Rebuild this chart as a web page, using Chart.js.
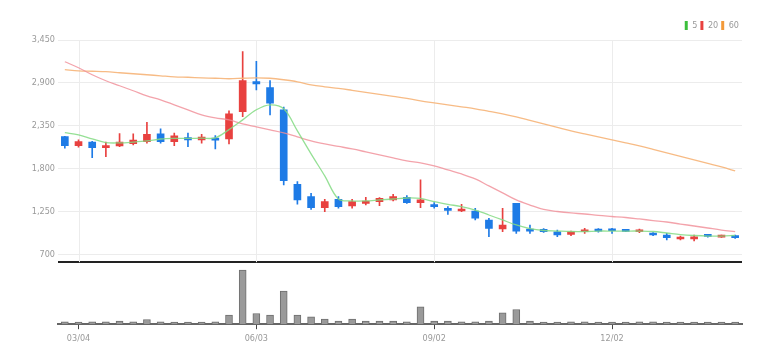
<!DOCTYPE html>
<html lang="en">
<head>
    <meta charset="UTF-8">
    <title>Weekly candles</title>
    <script src="https://cdn.jsdelivr.net/npm/chart.js"></script>
    <style>
        body { margin: 0; background: #fff; }
        .chart-container { width: 782px; height: 364px; }
    </style>
</head>
<body>
    <div class="chart-container">
        <canvas id="stockChart"></canvas>
    </div>

    <script>
        // weekly dates (only a few are shown on the axis)
        const dates = ['02/26','03/04','03/11','03/18','03/25','04/01','04/08','04/15','04/22','04/29',
            '05/06','05/13','05/20','05/27','06/03','06/10','06/17','06/24','07/01','07/08',
            '07/15','07/22','07/29','08/05','08/12','08/19','08/26','09/02','09/09','09/16',
            '09/23','09/30','10/07','10/14','10/21','10/28','11/04','11/11','11/18','11/25',
            '12/02','12/09','12/16','12/23','12/30','01/06','01/13','01/20','01/27','02/03'];
        const tickLabels = ['03/04', '06/03', '09/02', '12/02'];
        const priceTicks = [700, 1250, 1800, 2350, 2900, 3450];

        const opens  = [2211,2095,2139,2070,2090,2121,2147,2245,2147,2198,2168,2190,2182,2532,2918,2841,2554,1600,1440,1299,
                        1407,1321,1355,1376,1398,1432,1363,1334,1291,1256,1256,1141,1025,1355,1021,1021,990,957,990,1021,
                        1021,1012,990,970,948,897,897,948,922,940];
        const highs  = [2215,2169,2150,2139,2250,2245,2395,2310,2255,2255,2240,2225,2541,3303,3175,2931,2589,1633,1484,1407,
                        1440,1407,1432,1427,1471,1453,1655,1363,1312,1342,1291,1163,1291,1355,1077,1030,1012,1000,1034,1030,
                        1034,1021,1025,978,970,935,948,957,948,948];
        const lows   = [2062,2075,1941,1954,2080,2103,2126,2125,2095,2083,2125,2053,2117,2468,2811,2490,1591,1343,1278,1247,
                        1291,1291,1333,1325,1385,1355,1299,1291,1214,1247,1141,926,990,970,970,980,926,940,970,985,
                        970,990,978,940,884,884,871,922,918,905];
        const closes = [2095,2147,2070,2092,2140,2165,2240,2147,2220,2168,2203,2165,2503,2931,2885,2640,1646,1398,1299,1376,
                        1312,1376,1385,1420,1440,1363,1398,1312,1265,1278,1163,1034,1077,999,999,990,948,990,1012,999,
                        1003,995,1008,948,913,918,926,931,940,913];

        const ma5  = [2262,2233,2182,2134,2130,2140,2155,2180,2188,2188,2190,2195,2300,2425,2555,2618,2567,2284,1989,1706,
                      1410,1385,1385,1398,1410,1423,1417,1376,1342,1312,1269,1205,1141,1077,1030,1006,999,993,993,999,
                      999,999,999,993,974,954,942,935,935,942];
        const ma20 = [3171,3094,3004,2927,2863,2799,2734,2683,2619,2554,2490,2451,2425,2374,2336,2297,2258,2207,2156,2117,
                      2085,2053,2015,1976,1937,1899,1873,1835,1783,1732,1668,1578,1488,1398,1333,1276,1250,1231,1218,1199,
                      1186,1173,1154,1134,1115,1089,1064,1038,1012,993];
        const ma60 = [3069,3055,3049,3043,3030,3017,3004,2991,2978,2972,2965,2959,2953,2959,2965,2959,2940,2914,2875,2850,
                      2830,2805,2779,2753,2727,2702,2670,2644,2619,2593,2567,2535,2503,2464,2419,2374,2329,2284,2245,2207,
                      2168,2130,2091,2047,2002,1957,1912,1867,1822,1770];

        const volumes = [23000,13000,23000,23000,30000,23000,47000,23000,13000,13000,13000,23000,90000,540000,107000,90000,330000,90000,73000,50000,
                         30000,50000,30000,30000,30000,23000,173000,30000,30000,23000,23000,30000,113000,147000,30000,13000,13000,23000,23000,13000,
                         7000,13000,23000,23000,13000,13000,13000,13000,7000,7000];

        const UP = '#e8413f';
        const DOWN = '#1e7be6';
        const candleColors = opens.map((o, i) => closes[i] >= o ? UP : DOWN);
        const labelFont = { family: "'Liberation Sans Narrow', 'DejaVu Sans Condensed', 'Liberation Sans', sans-serif", size: 9 };

        // light vertical grid lines only inside the price panel
        const priceGrid = {
            id: 'priceGrid',
            beforeDatasetsDraw(chart) {
                const { ctx, scales: { x, y } } = chart;
                ctx.save();
                ctx.strokeStyle = '#ececec';
                ctx.lineWidth = 1;
                x.ticks.forEach(t => {
                    const px = Math.round(x.getPixelForValue(t.value)) + 0.5;
                    ctx.beginPath();
                    ctx.moveTo(px, y.top);
                    ctx.lineTo(px, y.bottom);
                    ctx.stroke();
                });
                ctx.restore();
            }
        };

        const lineDs = (label, data, color, solid) => ({
            type: 'line',
            label: label,
            data: data,
            yAxisID: 'y',
            borderColor: color,
            backgroundColor: solid,
            borderWidth: 1.3,
            pointRadius: 0,
            tension: 0.35,
            order: 0
        });

        new Chart(document.getElementById('stockChart'), {
            data: {
                labels: dates,
                datasets: [
                    lineDs('5', ma5, 'rgba(130,218,130,0.85)', '#3cbf3c'),
                    lineDs('20', ma20, 'rgba(240,140,150,0.8)', '#e8413f'),
                    lineDs('60', ma60, 'rgba(246,180,120,0.9)', '#f39a3a'),
                    {
                        type: 'bar',
                        label: 'body',
                        data: opens.map((o, i) => [o, closes[i]]),
                        yAxisID: 'y',
                        backgroundColor: candleColors,
                        barThickness: 7,
                        minBarLength: 2,
                        grouped: false,
                        order: 1
                    },
                    {
                        type: 'bar',
                        label: 'wick',
                        data: lows.map((l, i) => [l, highs[i]]),
                        yAxisID: 'y',
                        backgroundColor: candleColors,
                        barThickness: 1,
                        grouped: false,
                        order: 2
                    },
                    {
                        type: 'bar',
                        label: 'volume',
                        data: volumes,
                        yAxisID: 'yv',
                        backgroundColor: '#9a9a9a',
                        borderColor: '#6e6e6e',
                        borderWidth: 1,
                        barThickness: 7,
                        minBarLength: 2,
                        grouped: false,
                        order: 3
                    }
                ]
            },
            options: {
                responsive: true,
                maintainAspectRatio: false,
                animation: false,
                layout: { padding: { top: 18, right: 40, bottom: 16, left: 0 } },
                plugins: {
                    tooltip: { enabled: false },
                    legend: {
                        position: 'top',
                        align: 'end',
                        labels: {
                            boxWidth: 3,
                            boxHeight: 9,
                            padding: 3,
                            color: '#999',
                            font: labelFont,
                            filter: item => ['5', '20', '60'].includes(item.text),
                            generateLabels(chart) {
                                return chart.data.datasets.map((ds, i) => ({
                                    text: ds.label,
                                    fillStyle: ds.backgroundColor,
                                    strokeStyle: ds.backgroundColor,
                                    lineWidth: 0,
                                    fontColor: '#999',
                                    datasetIndex: i
                                }));
                            }
                        }
                    }
                },
                scales: {
                    x: {
                        offset: true,
                        grid: { drawOnChartArea: false, offset: false, tickLength: 5, tickColor: '#444' },
                        border: { color: '#666', width: 2 },
                        afterBuildTicks: scale => {
                            scale.ticks = scale.ticks.filter(t => tickLabels.includes(dates[t.value]));
                        },
                        ticks: {
                            autoSkip: false,
                            maxRotation: 0,
                            color: '#999',
                            font: labelFont,
                            padding: 4,
                            callback: function(value) { return this.getLabelForValue(value); }
                        }
                    },
                    yv: {
                        position: 'left',
                        stack: 'panels',
                        stackWeight: 62,
                        min: 0,
                        max: 620000,
                        afterBuildTicks: scale => { scale.ticks = [{ value: 620000 }]; },
                        afterFit: scale => { scale.width = 58; },
                        grid: { color: '#222', lineWidth: 2, drawTicks: false },
                        border: { display: false },
                        ticks: { display: false }
                    },
                    y: {
                        position: 'left',
                        stack: 'panels',
                        stackWeight: 222,
                        min: 600,
                        max: 3450,
                        afterBuildTicks: scale => { scale.ticks = priceTicks.map(v => ({ value: v })); },
                        afterFit: scale => { scale.width = 58; },
                        grid: { color: '#ececec', drawTicks: false },
                        border: { display: false },
                        ticks: {
                            color: '#999',
                            font: labelFont,
                            padding: 3,
                            callback: value => value.toLocaleString('en-US')
                        }
                    }
                }
            },
            plugins: [priceGrid]
        });
    </script>
</body>
</html>
